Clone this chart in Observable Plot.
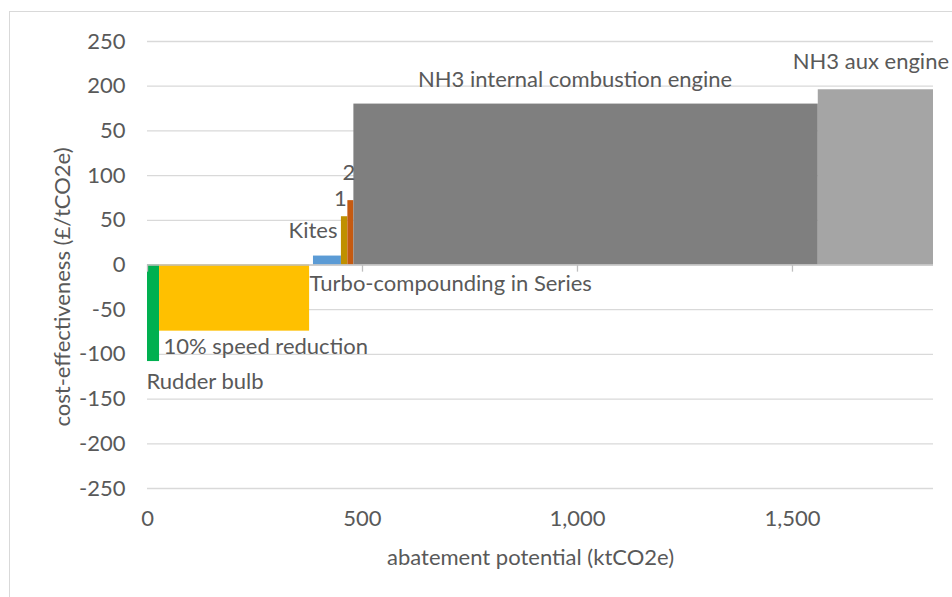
<!DOCTYPE html>
<html><head><meta charset="utf-8">
<script src="https://cdn.jsdelivr.net/npm/d3@7"></script>
<script src="https://cdn.jsdelivr.net/npm/@observablehq/plot@0.6"></script>
<style>
html,body{margin:0;padding:0;background:#fff;overflow:hidden}
#frame{position:absolute;left:9px;top:11px;width:1000px;height:700px;border:1px solid #d9d9d9;box-sizing:border-box}
#chart{position:absolute;left:0;top:0}
</style></head><body>
<div id="frame"></div><div id="chart"></div>
<script>
// Data (marginal abatement cost curve)
const measures = ["Rudder bulb", "10% speed reduction", "Turbo-compounding in Series", "Kites", "1", "2", "NH3 internal combustion engine", "NH3 aux engine"];
const potentials = [28, 349, 9, 65, 15, 14, 1080, 268];       // ktCO2e (bar widths)
const costs = [-108, -74, 0, 10, 54, 72, 180, 196];            // £/tCO2e (bar heights)
const xTicks = [0, 500, 1000, 1500];
const yTicks = [-250, -200, -150, -100, -50, 0, 50, 100, 150, 200, 250];
const yTickLabels = ["-250", "-200", "-150", "-100", "-50", "0", "50", "100", "50", "200", "250"];
const xTitle = "abatement potential (ktCO2e)";
const yTitle = "cost-effectiveness (£/tCO2e)";

// Styles (kept apart from the data)
const colors = ["#00B050", "#FFC000", "none", "#5B9BD5", "#BF9000", "#C55A11", "#7F7F7F", "#A5A5A5"];
const labelStyle = {
  "Rudder bulb": {at: "start", ref: "cost", anchor: "start", dx: -1, dy: 20},
  "10% speed reduction": {at: "start", ref: "cost", anchor: "start", dx: 4, dy: 16},
  "Turbo-compounding in Series": {at: "start", ref: "zero", anchor: "start", dx: 0, dy: 19},
  "Kites": {at: "end", ref: "cost", anchor: "end", dx: -4, dy: -25},
  "1": {at: "start", ref: "cost", anchor: "middle", dx: -1, dy: -18},
  "2": {at: "start", ref: "cost", anchor: "middle", dx: 1, dy: -28},
  "NH3 internal combustion engine": {at: "mid", ref: "cost", anchor: "middle", dx: -11, dy: -24},
  "NH3 aux engine": {at: "mid", ref: "cost", anchor: "middle", dx: -5, dy: -28}
};

const ends = d3.cumsum(potentials);
const rows = measures.map((name, i) => ({
  name, cost: costs[i], x0: ends[i] - potentials[i], x1: ends[i], color: colors[i]
}));

const labelMarks = rows.map(r => {
  const s = labelStyle[r.name];
  return Plot.text([r], {
    x: d => s.at === "mid" ? (d.x0 + d.x1) / 2 : s.at === "end" ? d.x1 : d.x0,
    y: d => s.ref === "zero" ? 0 : d.cost,
    text: "name", textAnchor: s.anchor, lineAnchor: "middle", dx: s.dx, dy: s.dy, fill: "#595959"
  });
});

const chart = Plot.plot({
  width: 952, height: 597,
  marginLeft: 147, marginRight: 19, marginTop: 41, marginBottom: 109,
  style: {fontFamily: "Lato, 'Open Sans', sans-serif", fontSize: "22px", color: "#595959", background: "transparent"},
  x: {domain: [0, 1828], ticks: xTicks, tickFormat: d3.format(","), tickSize: 0, tickPadding: 22, label: null},
  y: {domain: [-250, 250], ticks: yTicks, tickFormat: d => yTickLabels[yTicks.indexOf(d)], tickSize: 0, tickPadding: 22, label: null},
  color: {type: "identity"},
  marks: [
    Plot.ruleY(yTicks.filter(d => d !== 0), {stroke: "#d9d9d9", strokeWidth: 1.3}),
    Plot.rect(rows, {x1: "x0", x2: "x1", y1: 0, y2: "cost", fill: "color"}),
    Plot.ruleY([0], {stroke: "#bfbfbf", strokeWidth: 1.3}),
    Plot.ruleX(xTicks, {y1: 0, y2: -8, stroke: "#bfbfbf", strokeWidth: 1.3}),
    ...labelMarks,
    Plot.text([yTitle], {frameAnchor: "left", rotate: -90, textAnchor: "middle", lineAnchor: "middle", dx: -85, dy: 22, fill: "#595959"}),
    Plot.text([xTitle], {frameAnchor: "bottom", textAnchor: "middle", lineAnchor: "middle", dx: -10, dy: 69, fill: "#595959"})
  ]
});
document.getElementById("chart").appendChild(chart);
</script>
</body></html>
